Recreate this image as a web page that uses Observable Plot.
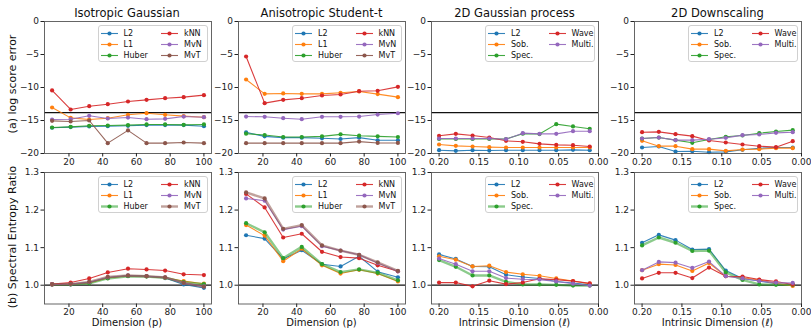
<!DOCTYPE html>
<html><head><meta charset="utf-8">
<script src="https://cdn.jsdelivr.net/npm/d3@7"></script>
<script src="https://cdn.jsdelivr.net/npm/@observablehq/plot@0.6"></script>
<style>
body{margin:0;background:#fff;font-family:"DejaVu Sans",sans-serif;}
#wrap{position:relative;width:811px;height:329px;overflow:hidden;background:#fff;}
.pl{position:absolute;}
.title{position:absolute;font-size:11.5px;line-height:1;color:#111;white-space:nowrap;transform:translate(-50%,-50%);}
.xlab{position:absolute;font-size:10px;line-height:1;color:#111;white-space:nowrap;transform:translate(-50%,-50%);}
.ylab{position:absolute;font-size:11px;line-height:1;color:#111;white-space:nowrap;transform:translate(-50%,-50%) rotate(-90deg);}
.leg{position:absolute;width:110px;height:37px;box-sizing:border-box;border:1px solid #d0d0d0;border-radius:3px;background:rgba(255,255,255,0.85);}
.li{position:absolute;height:11px;line-height:11px;font-size:8px;color:#111;white-space:nowrap;display:flex;align-items:center;}
.li svg{margin-right:6px;}
</style>
</head><body>
<div id="wrap"></div>
<script>
// ---------- data ----------
const dims = [10, 21, 32, 43, 55, 66, 77, 88, 100];
const ells = [0.2, 0.179, 0.158, 0.137, 0.116, 0.095, 0.074, 0.053, 0.032, 0.011];
const methodsA = ["L2", "L1", "Huber", "kNN", "MvN", "MvT"];
const methodsB = ["L2", "Sob.", "Spec.", "Wave", "Multi."];
const colorsA = ["#1f77b4", "#ff7f0e", "#2ca02c", "#d62728", "#9467bd", "#8c564b"];
const colorsB = ["#1f77b4", "#ff7f0e", "#2ca02c", "#d62728", "#9467bd"];
const titles = ["Isotropic Gaussian", "Anisotropic Student-t", "2D Gaussian process", "2D Downscaling"];
const rowLabels = ["(a) log score error", "(b) Spectral Entropy Ratio"];
const xLabels = ["Dimension (p)", "Dimension (p)", "Intrinsic Dimension (\u2113)", "Intrinsic Dimension (\u2113)"];
const errTicks = [-20, -15, -10, -5, 0];
const serTicks = [1.0, 1.1, 1.2, 1.3];
const dimTicks = [20, 40, 60, 80, 100];
const ellTicks = [0.20, 0.15, 0.10, 0.05, 0.00];
const errRef = -13.8155;
const serRef = 1.0;

// (a) log score error
const isoErrL2 = [-16.1, -16.0, -15.9, -15.86, -15.8, -15.7, -15.7, -15.7, -15.86];
const isoErrL1 = [-13.03, -14.6, -14.85, -14.65, -14.14, -13.89, -14.14, -14.34, -14.5];
const isoErrHuber = [-16.06, -15.96, -15.8, -15.76, -15.7, -15.6, -15.6, -15.66, -15.6];
const isoErrKnn = [-10.45, -13.33, -12.83, -12.53, -12.12, -11.87, -11.62, -11.46, -11.16];
const isoErrMvn = [-14.85, -14.8, -14.29, -14.7, -14.55, -14.8, -14.75, -14.4, -14.5];
const isoErrMvt = [-15.05, -15.15, -15.0, -18.43, -16.5, -18.43, -18.43, -18.33, -18.43];

const aniErrL2 = [-16.8, -17.4, -17.6, -17.6, -17.7, -17.8, -17.6, -18.0, -18.0];
const aniErrL1 = [-8.79, -10.96, -10.9, -10.96, -10.96, -10.8, -10.6, -11.0, -11.46];
const aniErrHuber = [-17.0, -17.2, -17.5, -17.5, -17.4, -17.1, -17.3, -17.4, -17.5];
const aniErrKnn = [-5.3, -12.37, -11.87, -11.62, -11.21, -11.06, -10.56, -10.5, -9.9];
const aniErrMvn = [-14.4, -14.44, -14.65, -14.8, -14.44, -14.44, -14.4, -14.1, -13.9];
const aniErrMvt = [-18.43, -18.43, -18.43, -18.43, -18.43, -18.43, -18.2, -18.4, -18.4];

const gpErrL2 = [-19.5, -19.6, -19.5, -19.55, -19.5, -19.5, -19.5, -19.5, -19.45, -19.5];
const gpErrSob = [-18.64, -18.84, -18.94, -19.04, -19.09, -19.09, -19.09, -19.09, -19.09, -19.09];
const gpErrSpec = [-17.8, -17.8, -17.8, -17.8, -17.8, -17.0, -17.05, -15.55, -15.9, -16.25];
const gpErrWave = [-17.32, -17.02, -17.27, -17.58, -18.08, -18.23, -18.54, -18.69, -18.74, -18.94];
const gpErrMulti = [-17.73, -17.73, -17.73, -17.73, -17.83, -16.92, -17.02, -17.02, -16.62, -16.62];

const dsErrL2 = [-19.09, -18.94, -19.7, -19.65, -19.8, -19.75, -19.44, -19.2, -19.1, -19.1];
const dsErrSob = [-18.08, -18.89, -18.89, -19.34, -19.34, -19.6, -19.4, -19.34, -19.19, -19.19];
const dsErrSpec = [-17.73, -17.58, -17.98, -18.38, -17.88, -17.47, -17.27, -16.92, -16.67, -16.46];
const dsErrWave = [-16.77, -16.72, -17.07, -17.37, -18.03, -18.33, -18.64, -18.89, -19.04, -18.13];
const dsErrMulti = [-17.73, -17.58, -17.98, -17.98, -17.83, -17.63, -17.22, -17.12, -16.87, -16.77];

// (b) spectral entropy ratio
const isoSerL2 = [1.002, 1.002, 1.007, 1.020, 1.025, 1.024, 1.019, 1.002, 0.993];
const isoSerL1 = [1.002, 1.003, 1.006, 1.019, 1.025, 1.024, 1.020, 1.011, 1.004];
const isoSerHuber = [1.002, 1.002, 1.005, 1.018, 1.024, 1.023, 1.020, 1.008, 1.003];
const isoSerKnn = [1.003, 1.007, 1.018, 1.034, 1.044, 1.042, 1.039, 1.029, 1.027];
const isoSerMvn = [1.002, 1.003, 1.008, 1.021, 1.026, 1.024, 1.021, 1.006, 0.997];
const isoSerMvt = [1.002, 1.003, 1.009, 1.022, 1.026, 1.024, 1.021, 1.006, 0.996];

const aniSerL2 = [1.133, 1.124, 1.070, 1.093, 1.056, 1.050, 1.077, 1.036, 1.021];
const aniSerL1 = [1.160, 1.132, 1.064, 1.097, 1.053, 1.031, 1.041, 1.031, 1.010];
const aniSerHuber = [1.165, 1.141, 1.072, 1.102, 1.056, 1.035, 1.042, 1.033, 1.013];
const aniSerKnn = [1.243, 1.207, 1.127, 1.137, 1.089, 1.075, 1.072, 1.053, 1.037];
const aniSerMvn = [1.231, 1.225, 1.148, 1.157, 1.104, 1.092, 1.081, 1.059, 1.037];
const aniSerMvt = [1.247, 1.231, 1.150, 1.160, 1.106, 1.092, 1.081, 1.061, 1.038];

const gpSerL2 = [1.082, 1.070, 1.050, 1.049, 1.028, 1.022, 1.018, 1.010, 1.006, 1.001];
const gpSerSob = [1.077, 1.068, 1.050, 1.052, 1.035, 1.029, 1.025, 1.018, 1.011, 1.004];
const gpSerSpec = [1.067, 1.049, 1.026, 1.026, 1.009, 1.002, 1.002, 1.001, 0.999, 0.999];
const gpSerWave = [1.007, 1.007, 0.997, 1.012, 1.003, 1.007, 1.017, 1.015, 1.011, 1.005];
const gpSerMulti = [1.071, 1.056, 1.037, 1.037, 1.019, 1.016, 1.015, 1.010, 1.004, 0.999];

const dsSerL2 = [1.113, 1.134, 1.120, 1.095, 1.096, 1.039, 1.018, 1.011, 1.004, 1.001];
const dsSerSob = [1.040, 1.056, 1.054, 1.038, 1.059, 1.024, 1.020, 1.014, 1.005, 0.998];
const dsSerSpec = [1.106, 1.127, 1.113, 1.091, 1.092, 1.034, 1.014, 1.002, 1.001, 1.001];
const dsSerWave = [1.018, 1.033, 1.033, 1.019, 1.047, 1.024, 1.023, 1.015, 1.010, 1.002];
const dsSerMulti = [1.040, 1.062, 1.060, 1.046, 1.063, 1.024, 1.018, 1.011, 1.007, 1.006];

// ---------- layout ----------
const colLeft = [43.5, 238, 431, 634];
const frameW = 167;
const rowTop = [21, 172];
const frameH = [132, 131.5];
const ML = 40, MR = 10, MT = 25, MB = 30;
const legW = 110;

const panels = [
  {row: 0, col: 0, xs: dims, names: methodsA, colors: colorsA, ys: [isoErrL2, isoErrL1, isoErrHuber, isoErrKnn, isoErrMvn, isoErrMvt]},
  {row: 0, col: 1, xs: dims, names: methodsA, colors: colorsA, ys: [aniErrL2, aniErrL1, aniErrHuber, aniErrKnn, aniErrMvn, aniErrMvt]},
  {row: 0, col: 2, xs: ells, names: methodsB, colors: colorsB, ys: [gpErrL2, gpErrSob, gpErrSpec, gpErrWave, gpErrMulti]},
  {row: 0, col: 3, xs: ells, names: methodsB, colors: colorsB, ys: [dsErrL2, dsErrSob, dsErrSpec, dsErrWave, dsErrMulti]},
  {row: 1, col: 0, xs: dims, names: methodsA, colors: colorsA, ys: [isoSerL2, isoSerL1, isoSerHuber, isoSerKnn, isoSerMvn, isoSerMvt]},
  {row: 1, col: 1, xs: dims, names: methodsA, colors: colorsA, ys: [aniSerL2, aniSerL1, aniSerHuber, aniSerKnn, aniSerMvn, aniSerMvt]},
  {row: 1, col: 2, xs: ells, names: methodsB, colors: colorsB, ys: [gpSerL2, gpSerSob, gpSerSpec, gpSerWave, gpSerMulti]},
  {row: 1, col: 3, xs: ells, names: methodsB, colors: colorsB, ys: [dsSerL2, dsSerSob, dsSerSpec, dsSerWave, dsSerMulti]}
];

const wrap = document.getElementById("wrap");
function thickFor(row, name) {
  return row === 1 && (name === "Huber" || name === "MvT" || name === "Spec.");
}

for (const p of panels) {
  const isDim = p.xs === dims;
  const data = [];
  p.ys.forEach((arr, si) => arr.forEach((v, i) => data.push({x: p.xs[i], y: v, s: p.names[si]})));
  const marks = [
    Plot.ruleY([p.row === 0 ? errRef : serRef], {stroke: "#111", strokeWidth: 1.2})
  ];
  p.names.forEach((n, si) => {
    const d = data.filter(r => r.s === n);
    const thick = thickFor(p.row, n);
    marks.push(Plot.line(d, {x: "x", y: "y", stroke: p.colors[si], strokeWidth: thick ? 2.4 : 1.1, strokeOpacity: thick ? 0.55 : 0.9}));
    marks.push(Plot.dot(d, {x: "x", y: "y", fill: p.colors[si], r: 2.1}));
  });
  marks.push(Plot.frame({stroke: "#555", strokeWidth: 0.9}));
  marks.push(Plot.axisX({ticks: isDim ? dimTicks : ellTicks, tickFormat: isDim ? d3.format("d") : d3.format(".2f"), tickSize: 3.5, tickPadding: 1.5, label: null, fontSize: 9}));
  marks.push(Plot.axisY({ticks: p.row === 0 ? errTicks : serTicks, tickFormat: p.row === 0 ? d3.format("d") : d3.format(".1f"), tickSize: 3.5, tickPadding: 2, label: null, fontSize: 9}));
  const fh = frameH[p.row];
  const chart = Plot.plot({
    width: ML + frameW + MR,
    height: MT + fh + MB,
    marginLeft: ML, marginRight: MR, marginTop: MT, marginBottom: MB,
    x: {domain: isDim ? [5.5, 104.5] : [0.2095, 0]},
    y: {domain: p.row === 0 ? [-20, 0] : [0.95, 1.3]},
    style: {background: "transparent", fontFamily: "DejaVu Sans", fontSize: "9px", color: "#222", overflow: "visible"},
    marks
  });
  chart.classList.add("pl");
  chart.style.left = (colLeft[p.col] - ML) + "px";
  chart.style.top = (rowTop[p.row] - MT) + "px";
  chart.style.position = "absolute";
  wrap.appendChild(chart);

  // legend
  const leg = document.createElement("div");
  leg.className = "leg";
  leg.style.left = (colLeft[p.col] + frameW - 3 - legW) + "px";
  leg.style.top = (rowTop[p.row] + 4) + "px";
  p.names.forEach((n, si) => {
    const c = Math.floor(si / 3), r = si % 3;
    const thick = thickFor(p.row, n);
    const it = document.createElement("div");
    it.className = "li";
    it.style.left = (2 + c * 60.5) + "px";
    it.style.top = (1.5 + r * 11) + "px";
    it.innerHTML = `<svg width="17" height="11"><line x1="0" x2="17" y1="5.5" y2="5.5" stroke="${p.colors[si]}" stroke-width="${thick ? 2.4 : 1.1}" stroke-opacity="${thick ? 0.55 : 0.9}"/><circle cx="8.5" cy="5.5" r="2.1" fill="${p.colors[si]}"/></svg><span>${n}</span>`;
    leg.appendChild(it);
  });
  wrap.appendChild(leg);
}

// titles and labels
titles.forEach((t, c) => {
  const el = document.createElement("div");
  el.className = "title";
  el.textContent = t;
  el.style.left = (colLeft[c] + frameW / 2) + "px";
  el.style.top = "14px";
  wrap.appendChild(el);
});
xLabels.forEach((t, c) => {
  const el = document.createElement("div");
  el.className = "xlab";
  el.textContent = t;
  el.style.left = (colLeft[c] + frameW / 2) + "px";
  el.style.top = "323px";
  wrap.appendChild(el);
});
rowLabels.forEach((t, r) => {
  const el = document.createElement("div");
  el.className = "ylab";
  el.textContent = t;
  el.style.left = "12px";
  el.style.top = (r === 0 ? 84 : 237) + "px";
  wrap.appendChild(el);
});
</script>
</body></html>
